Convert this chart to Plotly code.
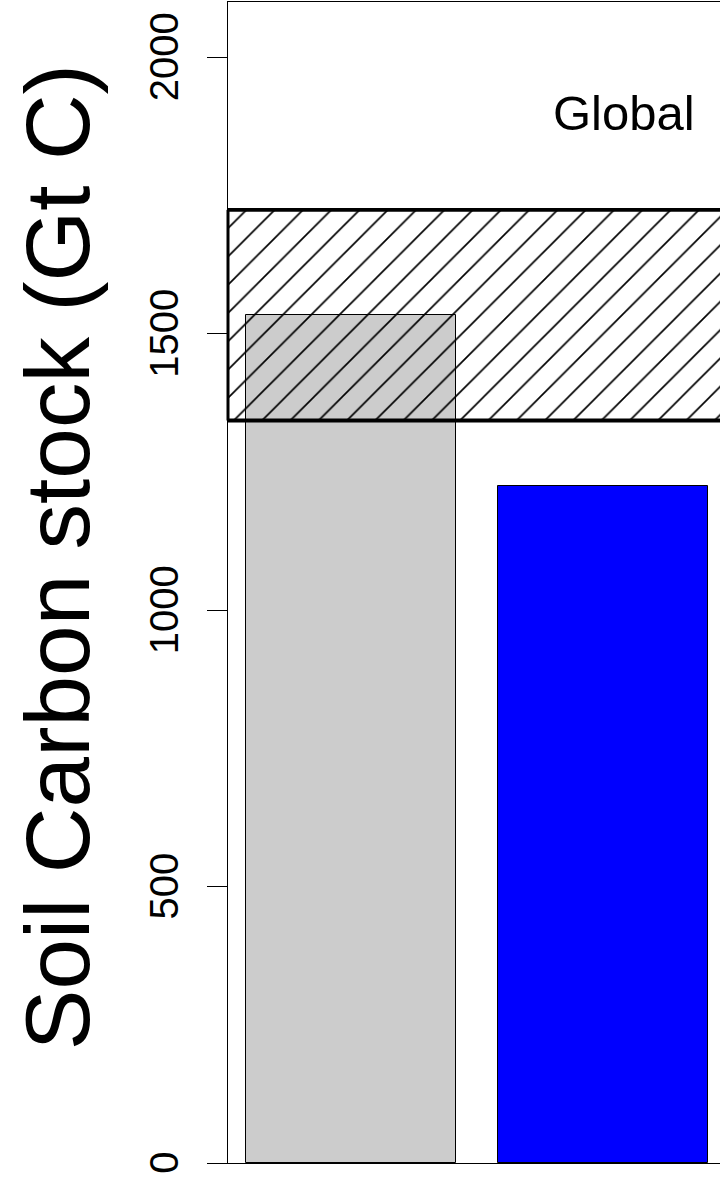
import plotly.graph_objects as go

# Data
categories = ["Observed", "Model"]
bar_x = [0.7, 1.9]
bar_values = [1533, 1225]
bar_colors = ["#CCCCCC", "#0000FF"]
band_low = 1343
band_high = 1724
y_ticks = [0, 500, 1000, 1500, 2000]
label_text = "Global"

x_range = [0.112, 2.457]
y_range = [0, 2100]

fig = go.Figure()

for xv, v, c, name in zip(bar_x, bar_values, bar_colors, categories):
    fig.add_trace(go.Bar(
        x=[xv], y=[v], width=[1.0], name=name,
        marker=dict(color=c, line=dict(color="black", width=1)),
        showlegend=False, hoverinfo="skip",
    ))

# Hatched uncertainty band
fig.add_trace(go.Bar(
    x=[(x_range[0] + x_range[1]) / 2], y=[band_high - band_low], base=[band_low],
    width=[x_range[1] - x_range[0] + 1],
    marker=dict(color="black", line=dict(width=0),
                pattern=dict(shape="/", size=20, solidity=0.085, fillmode="replace")),
    showlegend=False, hoverinfo="skip",
))

shapes = []
for yv in (band_low, band_high):
    shapes.append(dict(type="line", xref="paper", yref="y", x0=0, x1=1, y0=yv, y1=yv,
                       line=dict(color="black", width=3.8)))
shapes.append(dict(type="line", xref="paper", yref="y", x0=0, x1=0, y0=band_low, y1=band_high,
                   line=dict(color="black", width=3)))

fig.update_layout(
    width=720, height=1181,
    margin=dict(l=228, r=0, t=2, b=18),
    paper_bgcolor="white", plot_bgcolor="white",
    barmode="overlay", bargap=0,
    font=dict(family="Liberation Sans, Arial, sans-serif", color="black"),
    shapes=shapes,
    xaxis=dict(range=x_range, showticklabels=False, ticks="", showgrid=False,
               zeroline=False, showline=True, mirror=True, linecolor="black", linewidth=1.3),
    yaxis=dict(range=y_range, tickvals=y_ticks, ticktext=[str(t) + "\u00a0" for t in y_ticks],
               tickangle=-90, ticks="outside", ticklen=20, tickwidth=1.3, tickcolor="black",
               tickfont=dict(size=40), showgrid=False, zeroline=False,
               showline=True, linecolor="black", linewidth=1.3, ticklabelstandoff=13),
    annotations=[
        dict(text=label_text, x=2.0, y=1900, xref="x", yref="y", showarrow=False,
             font=dict(size=49), xanchor="center", yanchor="middle"),
        dict(text="Soil Carbon stock (Gt C)", x=-0.345, y=0.522, xref="paper", yref="paper",
             showarrow=False, textangle=-90, font=dict(size=91),
             xanchor="center", yanchor="middle"),
    ],
)

fig.write_html("out.html", config={"displayModeBar": False},
               post_script="document.body.style.margin='0';document.body.style.overflow='hidden';")
